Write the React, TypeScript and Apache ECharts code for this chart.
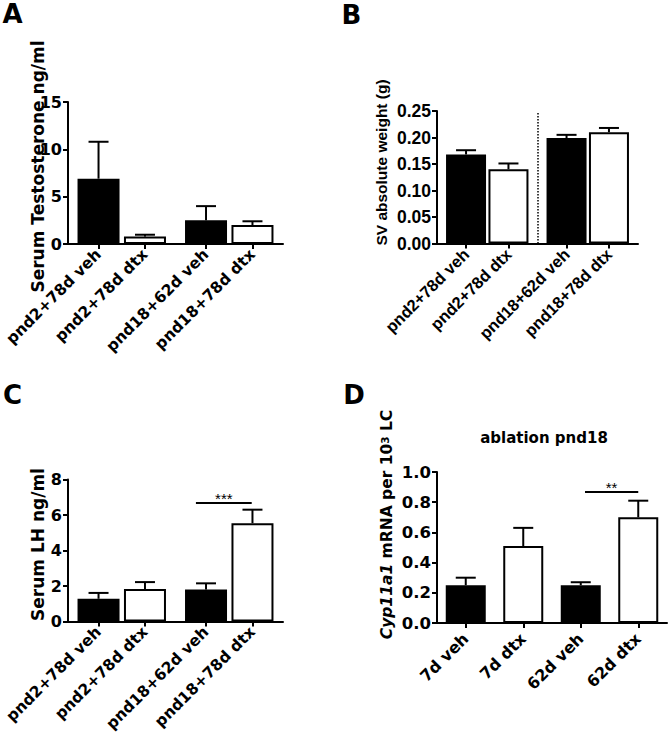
import React, { useEffect, useRef } from 'react';
import * as echarts from 'echarts';

// ---------- data ----------
const lcStudyGroups = ['pnd2+78d veh', 'pnd2+78d dtx', 'pnd18+62d veh', 'pnd18+78d dtx'];

const testosteroneMean = [6.9, 0.78, 2.5, 2.0];
const testosteroneSem = [3.9, 0.2, 1.5, 0.4];

const svWeightMean = [0.168, 0.14, 0.199, 0.21];
const svWeightSem = [0.008, 0.011, 0.006, 0.008];

const lhMean = [1.28, 1.83, 1.8, 5.54];
const lhSem = [0.33, 0.39, 0.35, 0.76];
const lhSignificance = { from: 2, to: 3, level: 6.7, stars: '***' };

const ablationGroups = ['7d veh', '7d dtx', '62d veh', '62d dtx'];
const cypMean = [0.25, 0.51, 0.25, 0.7];
const cypSem = [0.05, 0.12, 0.02, 0.11];
const cypSignificance = { from: 2, to: 3, level: 0.87, stars: '**' };

// ---------- layout / style ----------
const WIDE = '"DejaVu Sans", "Liberation Sans", sans-serif';
const NARROW = '"Liberation Sans", Arial, sans-serif';

type Sig = { from: number; to: number; level: number; stars: string };
type Panel = {
  grid: { left: number; top: number; width: number; height: number };
  cats: string[];
  mean: number[];
  sem: number[];
  yMax: number;
  yInterval: number;
  decimals: number;
  offset: number; // half-distance between the two bars of a group, in group units
  barWidth: number;
  family: string;
  tickFont: number;
  catFont: number;
  catMargin: number;
  sig?: Sig;
  sigShift?: [number, number];
  divider?: number;
};

const panels: Panel[] = [
  {
    grid: { left: 68, top: 102, width: 215, height: 142 },
    cats: lcStudyGroups, mean: testosteroneMean, sem: testosteroneSem,
    yMax: 15, yInterval: 5, decimals: 0, offset: 0.216, barWidth: 42,
    family: WIDE, tickFont: 16, catFont: 15.5, catMargin: 8,
  },
  {
    grid: { left: 437, top: 111, width: 201, height: 132.5 },
    cats: lcStudyGroups, mean: svWeightMean, sem: svWeightSem,
    yMax: 0.25, yInterval: 0.05, decimals: 2, offset: 0.211, barWidth: 40,
    family: NARROW, tickFont: 17.5, catFont: 16.5, catMargin: 8,
    divider: 0.246,
  },
  {
    grid: { left: 68, top: 479.5, width: 215, height: 142 },
    cats: lcStudyGroups, mean: lhMean, sem: lhSem,
    yMax: 8, yInterval: 2, decimals: 0, offset: 0.216, barWidth: 42,
    family: WIDE, tickFont: 16, catFont: 15.5, catMargin: 8,
    sig: lhSignificance, sigShift: [-0.094, -0.007],
  },
  {
    grid: { left: 437, top: 472, width: 230, height: 151 },
    cats: ablationGroups, mean: cypMean, sem: cypSem,
    yMax: 1.0, yInterval: 0.2, decimals: 1, offset: 0.25, barWidth: 40,
    family: WIDE, tickFont: 16.5, catFont: 16, catMargin: 13,
    sig: cypSignificance, sigShift: [0.037, 0],
  },
];

function barPositions(offset: number): number[] {
  return [0.5 - offset, 0.5 + offset, 1.5 - offset, 1.5 + offset];
}

function buildOption() {
  const grid: any[] = [];
  const xAxis: any[] = [];
  const yAxis: any[] = [];
  const series: any[] = [];

  panels.forEach((p, i) => {
    const pos = barPositions(p.offset);
    grid.push({ ...p.grid, containLabel: false });
    xAxis.push({
      type: 'value',
      gridIndex: i,
      min: 0,
      max: 2,
      splitLine: { show: false },
      axisLine: { show: true, lineStyle: { color: '#000', width: 2 } },
      axisTick: { show: true, customValues: pos, length: 5, lineStyle: { color: '#000', width: 2 } },
      axisLabel: {
        show: true,
        customValues: pos,
        rotate: 45,
        margin: p.catMargin,
        color: '#000',
        fontFamily: p.family,
        fontWeight: 'bold',
        fontSize: p.catFont,
        formatter: (v: number) => {
          let best = 0;
          pos.forEach((q, k) => { if (Math.abs(q - v) < Math.abs(pos[best] - v)) best = k; });
          return p.cats[best];
        },
      },
    });
    yAxis.push({
      type: 'value',
      gridIndex: i,
      min: 0,
      max: p.yMax,
      interval: p.yInterval,
      splitLine: { show: false },
      axisLine: { show: true, lineStyle: { color: '#000', width: 2 } },
      axisTick: { show: true, length: 5, lineStyle: { color: '#000', width: 2 } },
      axisLabel: {
        margin: 6,
        color: '#000',
        fontFamily: p.family,
        fontWeight: 'bold',
        fontSize: p.tickFont,
        formatter: (v: number) => v.toFixed(p.decimals),
      },
    });

    let markLine: any = undefined;
    if (p.divider !== undefined) {
      markLine = {
        silent: true,
        symbol: ['none', 'none'],
        lineStyle: { color: '#000', width: 1.5, type: 'dotted' },
        label: { show: false },
        emphasis: { disabled: true },
        data: [[{ coord: [1, 0] }, { coord: [1, p.divider] }]],
      };
    }
    if (p.sig) {
      const s = p.sig;
      const sh = p.sigShift || [0, 0];
      markLine = {
        silent: true,
        symbol: ['none', 'none'],
        lineStyle: { color: '#000', width: 2, type: 'solid' },
        label: {
          show: true,
          position: 'insideMiddleTop',
          distance: -3,
          formatter: s.stars,
          color: '#000',
          fontFamily: NARROW,
          fontSize: 15,
        },
        emphasis: { disabled: true },
        data: [[
          { coord: [pos[s.from] + sh[0], s.level] },
          { coord: [pos[s.to] + sh[1], s.level] },
        ]],
      };
    }

    series.push({
      type: 'bar',
      xAxisIndex: i,
      yAxisIndex: i,
      barWidth: p.barWidth,
      silent: true,
      emphasis: { disabled: true },
      itemStyle: { borderColor: '#000', borderWidth: 2 },
      data: p.mean.map((m, k) => ({
        value: [pos[k], m],
        itemStyle: { color: k % 2 === 0 ? '#000' : '#fff' },
      })),
      markLine,
    });
    series.push({
      type: 'custom',
      xAxisIndex: i,
      yAxisIndex: i,
      silent: true,
      data: p.mean.map((m, k) => [pos[k], m, p.sem[k]]),
      renderItem: (_params: any, api: any) => {
        const x = api.value(0);
        const m = api.value(1);
        const e = api.value(2);
        const base = api.coord([x, m]);
        const top = api.coord([x, m + e]);
        return {
          type: 'group',
          children: [
            { type: 'line', shape: { x1: base[0], y1: base[1], x2: top[0], y2: top[1] }, style: { stroke: '#000', lineWidth: 2 } },
            { type: 'line', shape: { x1: top[0] - 10, y1: top[1], x2: top[0] + 10, y2: top[1] }, style: { stroke: '#000', lineWidth: 2 } },
          ],
        };
      },
    });
  });

  const letter = (t: string, x: number, y: number, size: number) => ({
    type: 'text', x, y, silent: true,
    style: { text: t, font: `bold ${size}px ${WIDE}`, fill: '#000', align: 'center', verticalAlign: 'middle' },
  });
  const vtitle = (t: string, x: number, y: number, size: number, family: string) => ({
    type: 'text', x, y, rotation: Math.PI / 2, silent: true,
    style: { text: t, font: `bold ${size}px ${family}`, fill: '#000', align: 'center', verticalAlign: 'middle' },
  });

  const graphic: any[] = [
    letter('A', 12.5, 14, 26),
    letter('B', 351.5, 15, 26),
    letter('C', 12.5, 395, 26),
    letter('D', 354, 395, 26),
    vtitle('Serum Testosterone ng/ml', 38, 166.5, 17, WIDE),
    vtitle('SV absolute weight (g)', 381, 162.5, 15.5, NARROW),
    vtitle('Serum LH ng/ml', 38, 544.5, 17, WIDE),
    {
      type: 'text', x: 387, y: 524.5, rotation: Math.PI / 2, silent: true,
      style: {
        text: '{i|Cyp11a1} mRNA per 10{sup|3} LC',
        font: `bold 15.5px ${WIDE}`,
        fill: '#000',
        align: 'center',
        verticalAlign: 'middle',
        rich: {
          i: { fontStyle: 'italic', fontWeight: 'bold', fontSize: 15.5, fontFamily: WIDE, fill: '#000' },
          sup: { fontWeight: 'bold', fontSize: 10.5, fontFamily: WIDE, fill: '#000', verticalAlign: 'top' },
        },
      },
    },
    {
      type: 'text', x: 544, y: 438, silent: true,
      style: { text: 'ablation pnd18', font: `bold 15px ${WIDE}`, fill: '#000', align: 'center', verticalAlign: 'middle' },
    },
  ];

  return {
    animation: false,
    backgroundColor: '#fff',
    textStyle: { fontFamily: WIDE },
    grid,
    xAxis,
    yAxis,
    series,
    graphic,
  };
}

export default function App() {
  const ref = useRef<HTMLDivElement>(null);
  useEffect(() => {
    if (!ref.current) return;
    const chart = echarts.init(ref.current, undefined, { renderer: 'svg' });
    chart.setOption(buildOption() as any);
    return () => chart.dispose();
  }, []);
  return (
    <div
      ref={ref}
      style={{ position: 'absolute', left: 0, top: 0, width: 669, height: 745, background: '#fff' }}
    />
  );
}
